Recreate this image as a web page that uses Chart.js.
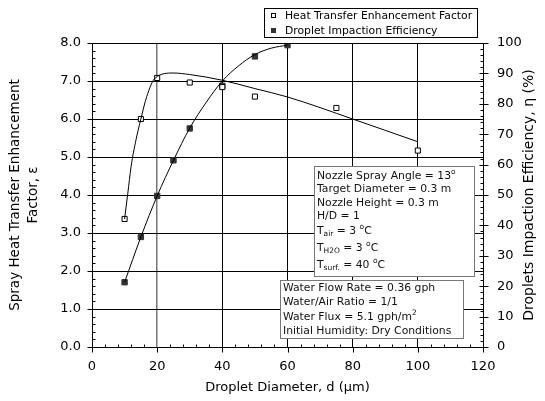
<!DOCTYPE html>
<html>
<head>
<meta charset="utf-8">
<script src="https://cdn.jsdelivr.net/npm/chart.js@4/dist/chart.umd.min.js"></script>
<style>
  body { margin: 0; background: #fff; }
  canvas { display: block; }
</style>
</head>
<body>
<canvas id="sprayChart" width="545" height="401"></canvas>
<script>
// measured points
const diameters = [10, 15, 20, 30, 40, 50, 75, 100];
const enhancementFactor = [3.37, 6.0, 7.08, 6.96, 6.84, 6.59, 6.29, 5.17];
const impactDiameters = [10, 15, 20, 25, 30, 40, 50, 60];
const impactionEfficiency = [21.3, 36.2, 49.7, 61.4, 71.9, 85.9, 95.6, 99.3];

// trend curves through the points
const enhancementFitX = [10, 11, 12, 13.5, 15, 16.8, 19.4, 24.9, 30, 40, 50, 60, 80, 100];
const enhancementFitY = [3.37, 4.05, 4.75, 5.45, 6.0, 6.59, 7.08, 7.21, 7.17, 7.02, 6.8, 6.58, 6.0, 5.4];
const impactionFitX = [10, 15, 20, 25, 30, 35, 40, 45, 50, 55, 60];
const impactionFitY = [21.3, 36.2, 49.7, 61.4, 72, 80.4, 87.5, 92.5, 96.2, 98.3, 99.3];

const legendLabels = ['Heat Transfer Enhancement Factor', 'Droplet Impaction Efficiency'];

const FONT = '"DejaVu Sans", Verdana, sans-serif';
const NOTE_SIZE = 10.8;

function pairs(xs, ys) {
    return xs.map((x, i) => ({ x: x, y: ys[i] }));
}

// text with sub/superscripts
function drawRich(ctx, x, y, parts) {
    ctx.textBaseline = 'middle';
    ctx.textAlign = 'left';
    for (const p of parts) {
        let dy = 0;
        if (p.sub) { ctx.font = '7.5px ' + FONT; dy = 3; }
        else if (p.sup) { ctx.font = '7.5px ' + FONT; dy = -4; }
        else ctx.font = NOTE_SIZE + 'px ' + FONT;
        ctx.fillText(p.t, x, y + dy);
        x += ctx.measureText(p.t).width;
    }
}

const conditionsBox = [
    [{ t: 'Nozzle Spray Angle = 13' }, { t: 'o', sup: true }],
    [{ t: 'Target Diameter = 0.3 m' }],
    [{ t: 'Nozzle Height = 0.3 m' }],
    [{ t: 'H/D = 1' }],
    [{ t: 'T' }, { t: 'air', sub: true }, { t: ' = 3 ' }, { t: 'o', sup: true }, { t: 'C' }],
    [{ t: 'T' }, { t: 'H2O', sub: true }, { t: ' = 3 ' }, { t: 'o', sup: true }, { t: 'C' }],
    [{ t: 'T' }, { t: 'surf.', sub: true }, { t: ' = 40 ' }, { t: 'o', sup: true }, { t: 'C' }]
];
const conditionsLineY = [176, 189, 203, 216, 231, 248, 265];

const waterBox = [
    [{ t: 'Water Flow Rate = 0.36 gph' }],
    [{ t: 'Water/Air Ratio = 1/1' }],
    [{ t: 'Water Flux = 5.1 gph/m' }, { t: '2', sup: true }],
    [{ t: 'Initial Humidity: Dry Conditions' }]
];
const waterLineY = [288, 302, 317, 331];

const decorations = {
    id: 'decorations',
    afterDraw(chart) {
        const ctx = chart.ctx;
        const { x, y, y2 } = chart.scales;
        const area = chart.chartArea;
        ctx.save();
        ctx.strokeStyle = '#000';
        ctx.lineWidth = 1;

        // frame
        ctx.strokeRect(Math.round(area.left) + 0.5, Math.round(area.top) + 0.5,
            Math.round(area.right - area.left), Math.round(area.bottom - area.top));

        ctx.beginPath();
        // left axis: major outside, minor inside
        const lx = Math.round(area.left) + 0.5;
        for (let v = 0; v <= 8.001; v += 0.2) {
            const py = Math.round(y.getPixelForValue(v)) + 0.5;
            const major = Math.abs(v - Math.round(v)) < 1e-6;
            if (major) { ctx.moveTo(lx - 5, py); ctx.lineTo(lx, py); }
            else { ctx.moveTo(lx, py); ctx.lineTo(lx + 3, py); }
        }
        // right axis: major across, minor inside
        const rx = Math.round(area.right) + 0.5;
        for (let v = 0; v <= 100; v += 2) {
            const py = Math.round(y2.getPixelForValue(v)) + 0.5;
            if (v % 10 === 0) { ctx.moveTo(rx - 4, py); ctx.lineTo(rx + 5, py); }
            else { ctx.moveTo(rx - 3, py); ctx.lineTo(rx, py); }
        }
        // bottom axis: major across, minor inside
        const by = Math.round(area.bottom) + 0.5;
        for (let v = 0; v <= 120; v += 4) {
            const px = Math.round(x.getPixelForValue(v)) + 0.5;
            if (v % 20 === 0) { ctx.moveTo(px, by); ctx.lineTo(px, by + 5); }
            else { ctx.moveTo(px, by - 3); ctx.lineTo(px, by); }
        }
        ctx.stroke();

        // right axis title, reading bottom to top
        ctx.save();
        ctx.translate(529, (area.top + area.bottom) / 2);
        ctx.rotate(-Math.PI / 2);
        ctx.font = '14px ' + FONT;
        ctx.fillStyle = '#000';
        ctx.textAlign = 'center';
        ctx.textBaseline = 'middle';
        ctx.fillText('Droplets Impaction Efficiency, η (%)', 0, 0);
        ctx.restore();

        // legend
        ctx.fillStyle = '#fff';
        ctx.fillRect(264, 8, 213, 29);
        ctx.strokeRect(264.5, 8.5, 213, 29);
        ctx.fillStyle = '#000';
        ctx.strokeRect(271.5, 13.5, 4, 4);
        ctx.fillStyle = '#333';
        ctx.fillRect(271, 28, 5, 5);
        ctx.fillStyle = '#000';
        ctx.font = '10.8px ' + FONT;
        ctx.textAlign = 'left';
        ctx.textBaseline = 'middle';
        ctx.fillText(legendLabels[0], 285, 16);
        ctx.fillText(legendLabels[1], 285, 31);

        // condition boxes
        ctx.strokeStyle = '#777';
        ctx.fillStyle = '#fff';
        ctx.fillRect(314, 166, 160, 110);
        ctx.strokeRect(314.5, 166.5, 160, 110);
        ctx.fillRect(280, 280, 183, 58);
        ctx.strokeRect(280.5, 280.5, 183, 58);
        ctx.fillStyle = '#111';
        conditionsBox.forEach((line, i) => drawRich(ctx, 317, conditionsLineY[i], line));
        waterBox.forEach((line, i) => drawRich(ctx, 283, waterLineY[i], line));
        ctx.restore();
    }
};

const ctx = document.getElementById('sprayChart').getContext('2d');

new Chart(ctx, {
    type: 'scatter',
    data: {
        datasets: [
            {
                label: 'enhancement fit',
                data: pairs(enhancementFitX, enhancementFitY),
                yAxisID: 'y',
                showLine: true,
                cubicInterpolationMode: 'monotone',
                borderColor: '#000',
                borderWidth: 1,
                pointRadius: 0
            },
            {
                label: 'impaction fit',
                data: pairs(impactionFitX, impactionFitY),
                yAxisID: 'y2',
                showLine: true,
                cubicInterpolationMode: 'monotone',
                borderColor: '#000',
                borderWidth: 1,
                pointRadius: 0
            },
            {
                label: legendLabels[0],
                data: pairs(diameters, enhancementFactor),
                yAxisID: 'y',
                pointStyle: 'rect',
                pointRadius: 3.6,
                backgroundColor: '#fff',
                borderColor: '#000',
                borderWidth: 1
            },
            {
                label: legendLabels[1],
                data: pairs(impactDiameters, impactionEfficiency),
                yAxisID: 'y2',
                pointStyle: 'rect',
                pointRadius: 3.8,
                backgroundColor: '#333',
                borderColor: '#333',
                borderWidth: 1
            }
        ]
    },
    options: {
        responsive: false,
        animation: false,
        devicePixelRatio: 1,
        layout: { padding: { top: 43, left: 0, right: 0, bottom: 0 } },
        plugins: {
            legend: { display: false },
            tooltip: { enabled: false }
        },
        scales: {
            x: {
                type: 'linear',
                min: 0,
                max: 120,
                ticks: {
                    stepSize: 20,
                    color: '#000',
                    padding: 12,
                    font: { family: FONT, size: 13 }
                },
                grid: {
                    color: c => c.tick && c.tick.value === 20 ? '#777' : '#000',
                    lineWidth: c => c.tick && c.tick.value === 20 ? 1.5 : 1,
                    drawTicks: false
                },
                border: { color: '#000' },
                title: {
                    display: true,
                    text: 'Droplet Diameter, d (μm)',
                    color: '#000',
                    font: { family: FONT, size: 13 },
                    padding: { top: 0, bottom: 6 }
                },
                afterFit: scale => { scale.height = 54; }
            },
            y: {
                position: 'left',
                min: 0,
                max: 8,
                ticks: {
                    stepSize: 1,
                    color: '#000',
                    padding: 11,
                    font: { family: FONT, size: 13 },
                    callback: v => v.toFixed(1)
                },
                grid: { color: '#000', drawTicks: false },
                border: { color: '#000' },
                title: {
                    display: true,
                    text: ['Spray Heat Transfer Enhancement', 'Factor, ε'],
                    color: '#000',
                    font: { family: FONT, size: 13.5, lineHeight: 1.35 },
                    padding: { top: 6, bottom: 0 }
                },
                afterFit: scale => { scale.width = 92; }
            },
            y2: {
                position: 'right',
                min: 0,
                max: 100,
                ticks: {
                    stepSize: 10,
                    color: '#000',
                    padding: 14,
                    font: { family: FONT, size: 13 }
                },
                grid: { drawOnChartArea: false, drawTicks: false },
                border: { color: '#000' },
                afterFit: scale => { scale.width = 62; }
            }
        }
    },
    plugins: [decorations]
});
</script>
</body>
</html>
